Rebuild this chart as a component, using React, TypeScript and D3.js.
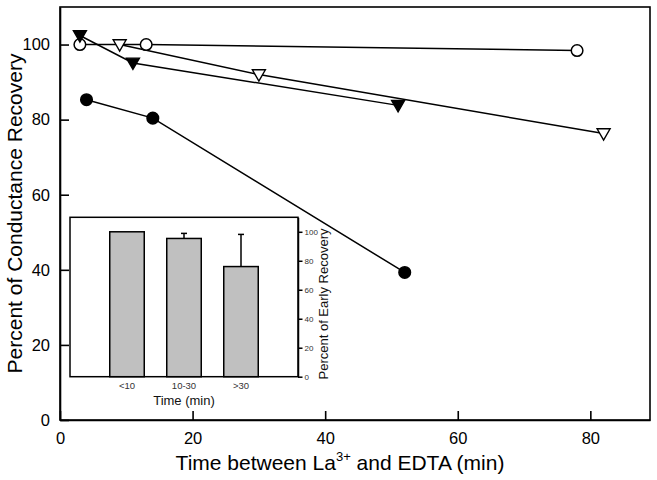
import * as d3 from 'd3';
import { useEffect, useRef } from 'react';

// main plot series: [time (min), percent recovery]
const openCircles: [number, number][] = [[3, 100], [13, 100], [78, 98.4]];
const openTriangles: [number, number][] = [[9, 100], [30, 92], [82, 76.3]];
const filledTriangles: [number, number][] = [[3, 102.4], [11, 95.1], [51, 83.8]];
const filledCircles: [number, number][] = [[4, 85.3], [14, 80.4], [52, 39.3]];

const xTicks = [0, 20, 40, 60, 80];
const yTicks = [0, 20, 40, 60, 80, 100];

// inset bar chart
const insetCategories = ['<10', '10-30', '>30'];
const insetValues = [100, 95.4, 76];
const insetErrors = [0, 3.5, 22.2];
const insetTicks = [0, 20, 40, 60, 80, 100];

export default function App() {
    const ref = useRef<SVGSVGElement | null>(null);

    useEffect(() => {
        const svg = d3.select(ref.current);
        svg.selectAll('*').remove();

        const width = 657;
        const height = 480;
        const margin = { top: 7, right: 7, bottom: 60, left: 60 };
        const font = 'Liberation Sans, Arial, sans-serif';

        svg.attr('width', width).attr('height', height)
            .style('position', 'absolute').style('left', 0).style('top', 0)
            .style('font-family', font);

        const x = d3.scaleLinear().domain([0, 89]).range([margin.left, width - margin.right]);
        const y = d3.scaleLinear().domain([0, 110]).range([height - margin.bottom, margin.top]);

        // frame
        svg.append('rect')
            .attr('x', x(0)).attr('y', y(110))
            .attr('width', x(89) - x(0)).attr('height', y(0) - y(110))
            .attr('fill', 'none').attr('stroke', '#000').attr('stroke-width', 1.6);

        const xAxis = svg.append('g')
            .attr('transform', `translate(0,${y(0)})`)
            .call(d3.axisBottom(x).tickValues(xTicks).tickSizeInner(-9).tickSizeOuter(0).tickPadding(12));
        const yAxis = svg.append('g')
            .attr('transform', `translate(${x(0)},0)`)
            .call(d3.axisLeft(y).tickValues(yTicks).tickSizeInner(-9).tickSizeOuter(0).tickPadding(10));
        [xAxis, yAxis].forEach(g => {
            g.select('.domain').attr('stroke-width', 1.6);
            g.selectAll('.tick line').attr('stroke-width', 1.6);
            g.selectAll('.tick text').attr('font-size', 16.5).attr('font-family', font).attr('fill', '#000');
        });

        svg.append('text')
            .attr('transform', `translate(22,${(y(0) + y(110)) / 2}) rotate(-90)`)
            .attr('text-anchor', 'middle')
            .attr('font-size', 21)
            .text('Percent of Conductance Recovery');

        const xl = svg.append('text')
            .attr('x', 340).attr('y', 470)
            .attr('text-anchor', 'middle')
            .attr('font-size', 21);
        xl.append('tspan').text('Time between La');
        xl.append('tspan').attr('font-size', 13).attr('dy', -9).text('3+');
        xl.append('tspan').attr('dy', 9).text(' and EDTA (min)');

        // inset
        const ix = d3.scalePoint<string>().domain(insetCategories).range([70, 298]).padding(1);
        const iy = d3.scaleLinear().domain([0, 110]).range([376.7, 217.3]);
        const bw = 34.5;

        svg.append('rect')
            .attr('x', 70).attr('y', iy(110))
            .attr('width', 228).attr('height', iy(0) - iy(110))
            .attr('fill', '#fff').attr('stroke', '#000').attr('stroke-width', 1.5);

        // error bars
        insetCategories.forEach((c, i) => {
            if (!insetErrors[i]) return;
            const cx = ix(c)!;
            svg.append('line')
                .attr('x1', cx).attr('x2', cx)
                .attr('y1', iy(insetValues[i])).attr('y2', iy(insetValues[i] + insetErrors[i]))
                .attr('stroke', '#000').attr('stroke-width', 1.5);
            svg.append('line')
                .attr('x1', cx - 3).attr('x2', cx + 3)
                .attr('y1', iy(insetValues[i] + insetErrors[i])).attr('y2', iy(insetValues[i] + insetErrors[i]))
                .attr('stroke', '#000').attr('stroke-width', 1.5);
        });

        svg.append('g').selectAll('rect')
            .data(insetCategories)
            .join('rect')
            .attr('x', c => ix(c)! - bw / 2)
            .attr('y', (_, i) => iy(insetValues[i]))
            .attr('width', bw)
            .attr('height', (_, i) => iy(0) - iy(insetValues[i]))
            .attr('fill', '#c0c0c0').attr('stroke', '#000').attr('stroke-width', 1.5);

        const iAxis = svg.append('g')
            .attr('transform', 'translate(298,0)')
            .call(d3.axisRight(iy).tickValues(insetTicks).tickSizeInner(4.5).tickSizeOuter(0).tickPadding(2));
        iAxis.select('.domain').attr('stroke-width', 1.5);
        iAxis.selectAll('.tick line').attr('stroke-width', 1.5);
        iAxis.selectAll('.tick text').attr('font-size', 8).attr('font-family', font).attr('fill', '#333');

        svg.append('g').selectAll('text')
            .data(insetCategories)
            .join('text')
            .attr('x', c => ix(c)!).attr('y', 389)
            .attr('text-anchor', 'middle')
            .attr('font-size', 9.5).attr('fill', '#333')
            .text(c => c);

        svg.append('text')
            .attr('x', 184).attr('y', 405)
            .attr('text-anchor', 'middle')
            .attr('font-size', 13).attr('fill', '#111')
            .text('Time (min)');

        svg.append('text')
            .attr('transform', `translate(328,304) rotate(-90)`)
            .attr('text-anchor', 'middle')
            .attr('font-size', 13).attr('fill', '#111')
            .text('Percent of Early Recovery');

        // series
        const line = d3.line<[number, number]>().x(d => x(d[0])).y(d => y(d[1]));
        const series = [
            { data: openCircles, shape: 'circle', fill: '#fff' },
            { data: openTriangles, shape: 'tri', fill: '#fff' },
            { data: filledTriangles, shape: 'tri', fill: '#000' },
            { data: filledCircles, shape: 'circle', fill: '#000' },
        ];
        series.forEach(s => {
            svg.append('path')
                .datum(s.data)
                .attr('fill', 'none').attr('stroke', '#000').attr('stroke-width', 1.5)
                .attr('d', line);
        });
        series.forEach(s => {
            const g = svg.append('g');
            if (s.shape === 'circle') {
                g.selectAll('circle').data(s.data).join('circle')
                    .attr('cx', d => x(d[0])).attr('cy', d => y(d[1]))
                    .attr('r', 5.8)
                    .attr('fill', s.fill).attr('stroke', '#000').attr('stroke-width', 1.5);
            } else {
                g.selectAll('path').data(s.data).join('path')
                    .attr('transform', d => `translate(${x(d[0])},${y(d[1])})`)
                    .attr('d', 'M-6.5,-4.8L6.5,-4.8L0,6.5Z')
                    .attr('fill', s.fill).attr('stroke', '#000').attr('stroke-width', 1.4);
            }
        });
    }, []);

    return <svg ref={ref}></svg>;
}
